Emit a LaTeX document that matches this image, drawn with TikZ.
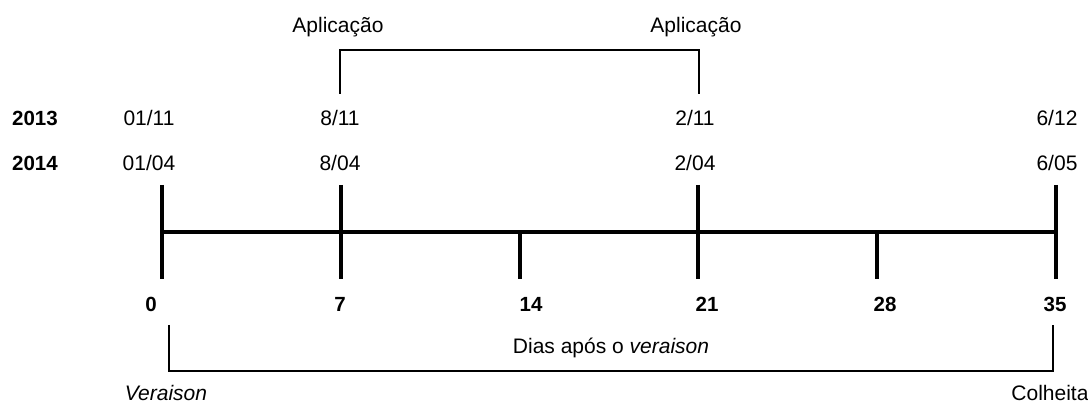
\documentclass[tikz,border=0pt]{standalone}
\usepackage{fontspec}
\setmainfont{Liberation Sans}
\begin{document}
\begin{tikzpicture}[x=1pt,y=-1pt,
  txt/.style={inner sep=0pt,anchor=center,font=\fontsize{21}{25}\selectfont},
  yr/.style={txt,font=\fontsize{20.5}{24}\selectfont\bfseries},
  axis/.style={line width=4.5pt},
  brace/.style={line width=1.4pt}]
\useasboundingbox (0,0) rectangle (1088,403);

% tick positions on the day axis
\coordinate (t0) at (162,232);
\coordinate (t7) at (341,232);
\coordinate (t14) at (520,232);
\coordinate (t21) at (698,232);
\coordinate (t28) at (877,232);
\coordinate (t35) at (1056,232);

% axis and ticks (the y axis points down, so ticks below use a negative shift)
\draw[axis] (t0) -- (t35);
\foreach \t in {t0,t7,t21,t35}
  \draw[axis] ([yshift=47pt]\t) -- ([yshift=-47pt]\t);
\foreach \t in {t14,t28}
  \draw[axis] (\t) -- ([yshift=-47pt]\t);

% day numbers
\node[yr] (d0) at (151,304) {0};
\node[yr] (d7) at (340,304) {7};
\node[yr] (d14) at (531,304) {14};
\node[yr] (d21) at (707,304) {21};
\node[yr] (d28) at (885,304) {28};
\node[yr] (d35) at (1055,304) {35};

% years and dates
\node[yr] (y13) at (35,118) {2013};
\node[yr] (y14) at (35,163) {2014};
\node[txt] (a13) at (149,118) {01/11};
\node[txt] (a14) at (149,163) {01/04};
\node[txt] (b13) at (340,118) {8/11};
\node[txt] (b14) at (340,163) {8/04};
\node[txt] (c13) at (695,118) {2/11};
\node[txt] (c14) at (695,163) {2/04};
\node[txt] (e13) at (1057,118) {6/12};
\node[txt] (e14) at (1057,163) {6/05};

% application bracket
\node[txt] (ap1) at (338,27) {Aplicação};
\node[txt] (ap2) at (696,27) {Aplicação};
\coordinate (p1) at (340,94);
\coordinate (p2) at (699,94);
\draw[brace] (p1) -- (340,50) -- (699,50) -- (p2);

% days-after bracket
\coordinate (q1) at (169,325);
\coordinate (q2) at (1053,325);
\draw[brace] (q1) -- (169,371) -- (1053,371) -- (q2);
\node[txt] (dias) at (611,348) {Dias após o \textit{veraison}};
\node[txt] (ver) at (166,393) {\textit{Veraison}};
\node[txt] (col) at (1050,393) {Colheita};
\end{tikzpicture}
\end{document}
